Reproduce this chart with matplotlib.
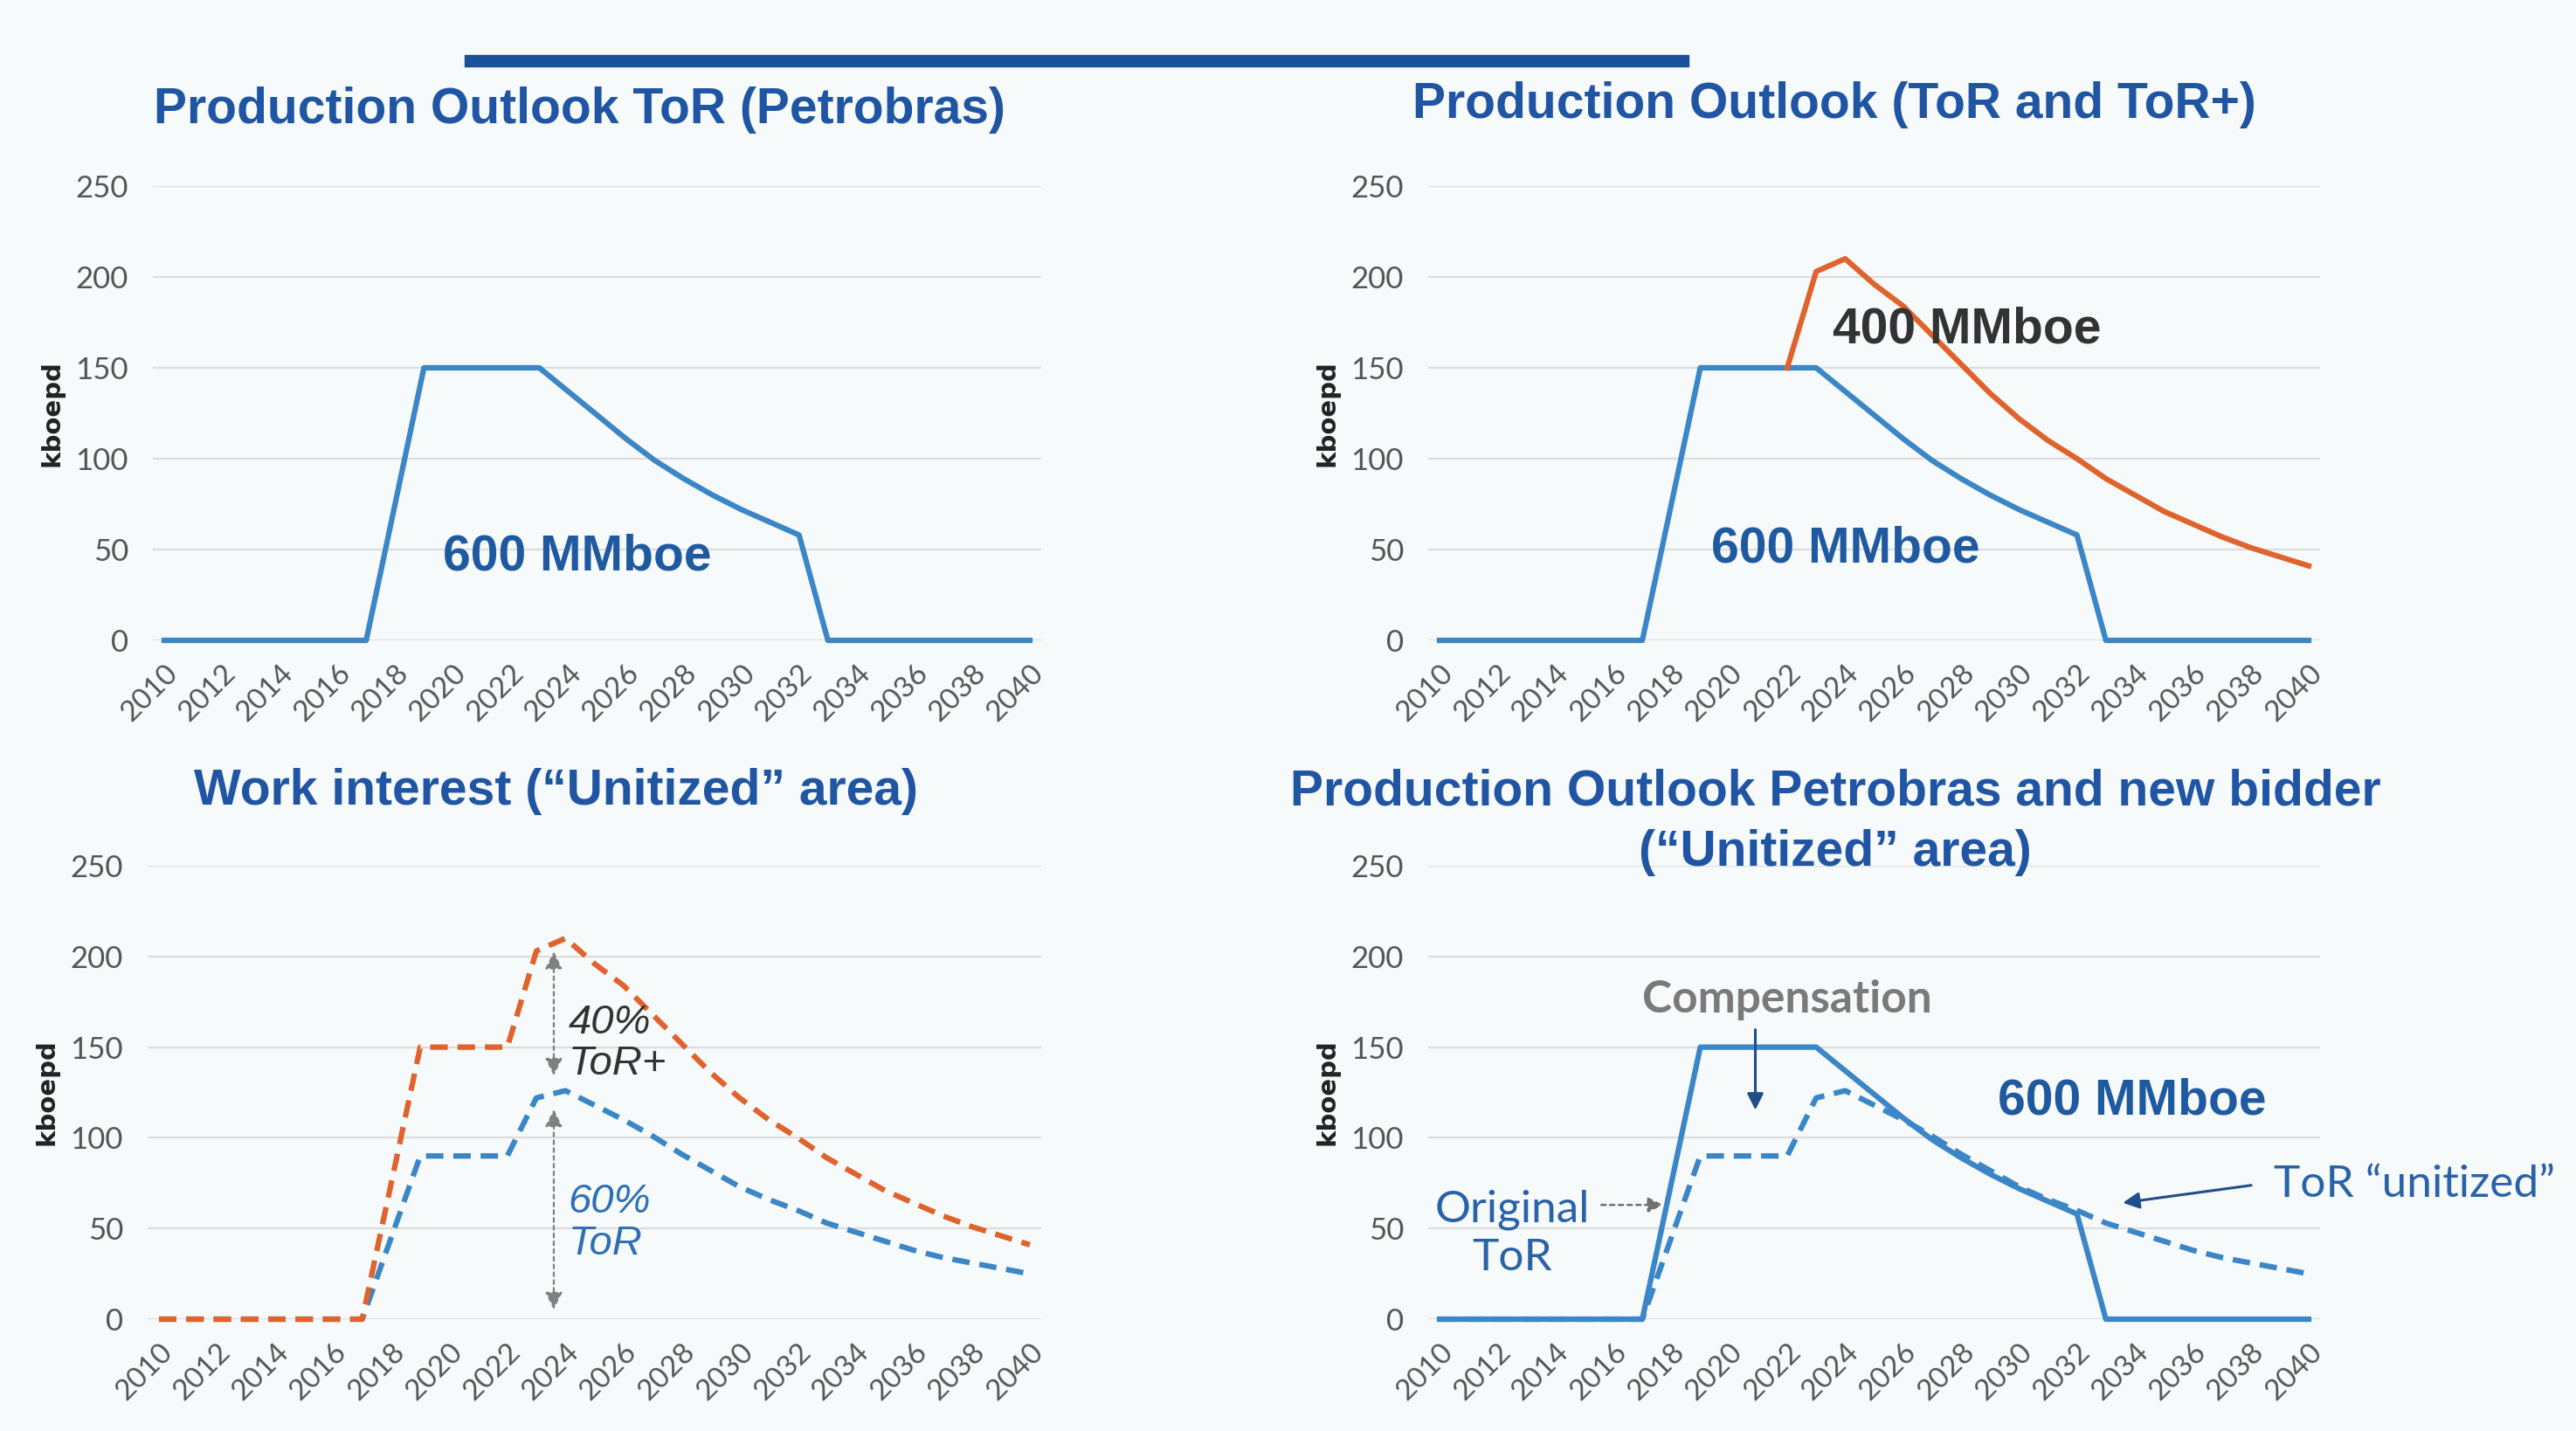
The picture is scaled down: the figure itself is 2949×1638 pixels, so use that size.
import matplotlib
matplotlib.use('Agg')
import matplotlib.pyplot as plt
from matplotlib.patches import Rectangle

years = list(range(2010, 2041))

# ToR (Petrobras) original profile, kboepd
tor = [0, 0, 0, 0, 0, 0, 0, 0, 75, 150, 150, 150, 150, 150, 137, 124, 111, 99, 89, 80, 72, 65, 58,
       0, 0, 0, 0, 0, 0, 0, 0]

# ToR+ profile (starts 2022)
torplus_years = list(range(2022, 2041))
torplus = [150, 203, 210, 196, 184, 168, 152, 136, 122, 110, 100, 89, 80, 71, 64, 57, 51, 46, 41]

# unitized area: total and ToR share (60%)
unit_total = [0, 0, 0, 0, 0, 0, 0, 0, 75, 150, 150, 150, 150, 203, 210, 196, 184, 168, 152, 136, 122,
              110, 100, 89, 80, 71, 64, 57, 51, 46, 41]
unit_tor = [0, 0, 0, 0, 0, 0, 0, 0, 45, 90, 90, 90, 90, 122, 126, 118, 110, 101, 91, 82, 73,
            66, 60, 53, 48, 43, 38, 34, 31, 28, 25]

xticks = list(range(2010, 2041, 2))
yticks = [0, 50, 100, 150, 200, 250]

BLUE = '#3b86c6'
ORANGE = '#e0622c'
TITLE = '#1f55a3'
TXTBLUE = '#1f5aa0'
GRID = '#dcdcdc'
TICK = '#555555'

W, H = 2949, 1638
fig = plt.figure(figsize=(W / 100, H / 100), dpi=100, facecolor='#f7fafb')


def make_ax(x2010, x2040, y0, y250):
    per = (x2040 - x2010) / 30
    left = x2010 - 0.4 * per
    width = 30.8 * per
    ax = fig.add_axes([left / W, 1 - y0 / H, width / W, (y0 - y250) / H])
    ax.set_facecolor('none')
    ax.set_xlim(2009.6, 2040.4)
    ax.set_ylim(0, 250)
    for s in ax.spines.values():
        s.set_visible(False)
    ax.set_yticks(yticks)
    ax.set_xticks(xticks)
    ax.set_xticklabels([str(y) for y in xticks], rotation=45, ha='right', va='top',
                       rotation_mode='anchor', family='Lato', fontsize=24, color=TICK)
    ax.set_yticklabels([str(y) for y in yticks], family='Lato', fontsize=25, color=TICK)
    ax.tick_params(length=0)
    ax.tick_params(axis='y', pad=20)
    ax.tick_params(axis='x', pad=16)
    ax.grid(axis='y', color=GRID, lw=1.6)
    ax.set_axisbelow(True)
    ax.set_ylabel('kboepd', fontsize=21, fontweight='bold', color='#222222', labelpad=9)
    return ax


ax1 = make_ax(188, 1179, 733, 213)
ax2 = make_ax(1648, 2643, 733, 213)
ax3 = make_ax(182, 1179, 1510, 991)
ax4 = make_ax(1648, 2643, 1510, 991)

lw = 4.5
big = dict(fontsize=41, fontweight='bold', family='Liberation Sans', ha='center', va='center')

# top-left
ax1.plot(years, tor, color=BLUE, lw=lw, clip_on=False)
ax1.text(2024.3, 46, '600 MMboe', color=TXTBLUE, **big)

# top-right
ax2.plot(years, tor, color=BLUE, lw=lw, clip_on=False)
ax2.plot(torplus_years, torplus, color=ORANGE, lw=lw, clip_on=False)
ax2.text(2028.2, 171, '400 MMboe', color='#333333', **big)
ax2.text(2024.0, 50, '600 MMboe', color=TXTBLUE, **big)

# bottom-left
dash = (0, (3.2, 1.8))
ax3.plot(years, unit_tor, color=BLUE, lw=lw, ls=dash, clip_on=False)
ax3.plot(years, unit_total, color=ORANGE, lw=lw, ls=dash, clip_on=False)
arrow_kw = dict(arrowstyle='<|-|>', color='#808080', lw=1.6, ls=(0, (2, 2)), mutation_scale=30)
ax3.annotate('', xy=(2023.6, 204), xytext=(2023.6, 133), arrowprops=arrow_kw)
ax3.annotate('', xy=(2023.6, 117), xytext=(2023.6, 4), arrowprops=arrow_kw)
ax3.text(2024.1, 152, '40%\nToR+', color='#333333', fontsize=34, style='italic',
         family='Liberation Sans', ha='left', va='center', linespacing=1.1)
ax3.text(2024.1, 53, '60%\nToR', color='#2f6fb5', fontsize=34, style='italic',
         family='Liberation Sans', ha='left', va='center', linespacing=1.1)

# bottom-right
ax4.plot(years, tor, color=BLUE, lw=lw, clip_on=False)
ax4.plot(years, unit_tor, color=BLUE, lw=lw, ls=dash, clip_on=False)
ax4.text(2022.0, 176, 'Compensation', color='#7a7a7a', fontsize=37, fontweight='bold',
         family='Lato', ha='center', va='center')
ax4.annotate('', xy=(2020.9, 114), xytext=(2020.9, 161),
             arrowprops=dict(arrowstyle='-|>', color='#1f4e89', lw=2.2, mutation_scale=28))
ax4.text(2033.9, 120, '600 MMboe', color=TXTBLUE, **big)
ax4.text(2012.5, 47, 'Original\nToR', color='#2a62a8', fontsize=37,
         family='Lato', ha='center', va='center', linespacing=1.25)
ax4.annotate('', xy=(2017.8, 63), xytext=(2015.5, 63),
             arrowprops=dict(arrowstyle='-|>', color='#707070', lw=1.8, ls=(0, (2, 2)),
                             mutation_scale=26))
ax4.text(2038.8, 74, 'ToR \u201cunitized\u201d', color='#2a62a8', fontsize=37,
         family='Lato', ha='left', va='center', clip_on=False)
ax4.annotate('', xy=(2033.5, 64), xytext=(2038.1, 74),
             arrowprops=dict(arrowstyle='-|>', color='#1f4e89', lw=2.2, mutation_scale=28))

# titles
tkw = dict(color=TITLE, fontsize=41, fontweight='bold', family='Liberation Sans',
           ha='center', va='center')
fig.text(663 / W, 1 - 126 / H, 'Production Outlook ToR (Petrobras)', **tkw)
fig.text(2100 / W, 1 - 120 / H, 'Production Outlook (ToR and ToR+)', **tkw)
fig.text(636 / W, 1 - 906 / H, 'Work interest (\u201cUnitized\u201d area)', **tkw)
fig.text(2101 / W, 1 - 907 / H, 'Production Outlook Petrobras and new bidder', **tkw)
fig.text(2101 / W, 1 - 976 / H, '(\u201cUnitized\u201d area)', **tkw)

# top bar
fig.add_artist(Rectangle((532 / W, 1 - 76 / H), (1933 - 532) / W, 13 / H,
                         transform=fig.transFigure, color='#1a4f9c'))

fig.savefig('out.png', dpi=100, facecolor=fig.get_facecolor())
